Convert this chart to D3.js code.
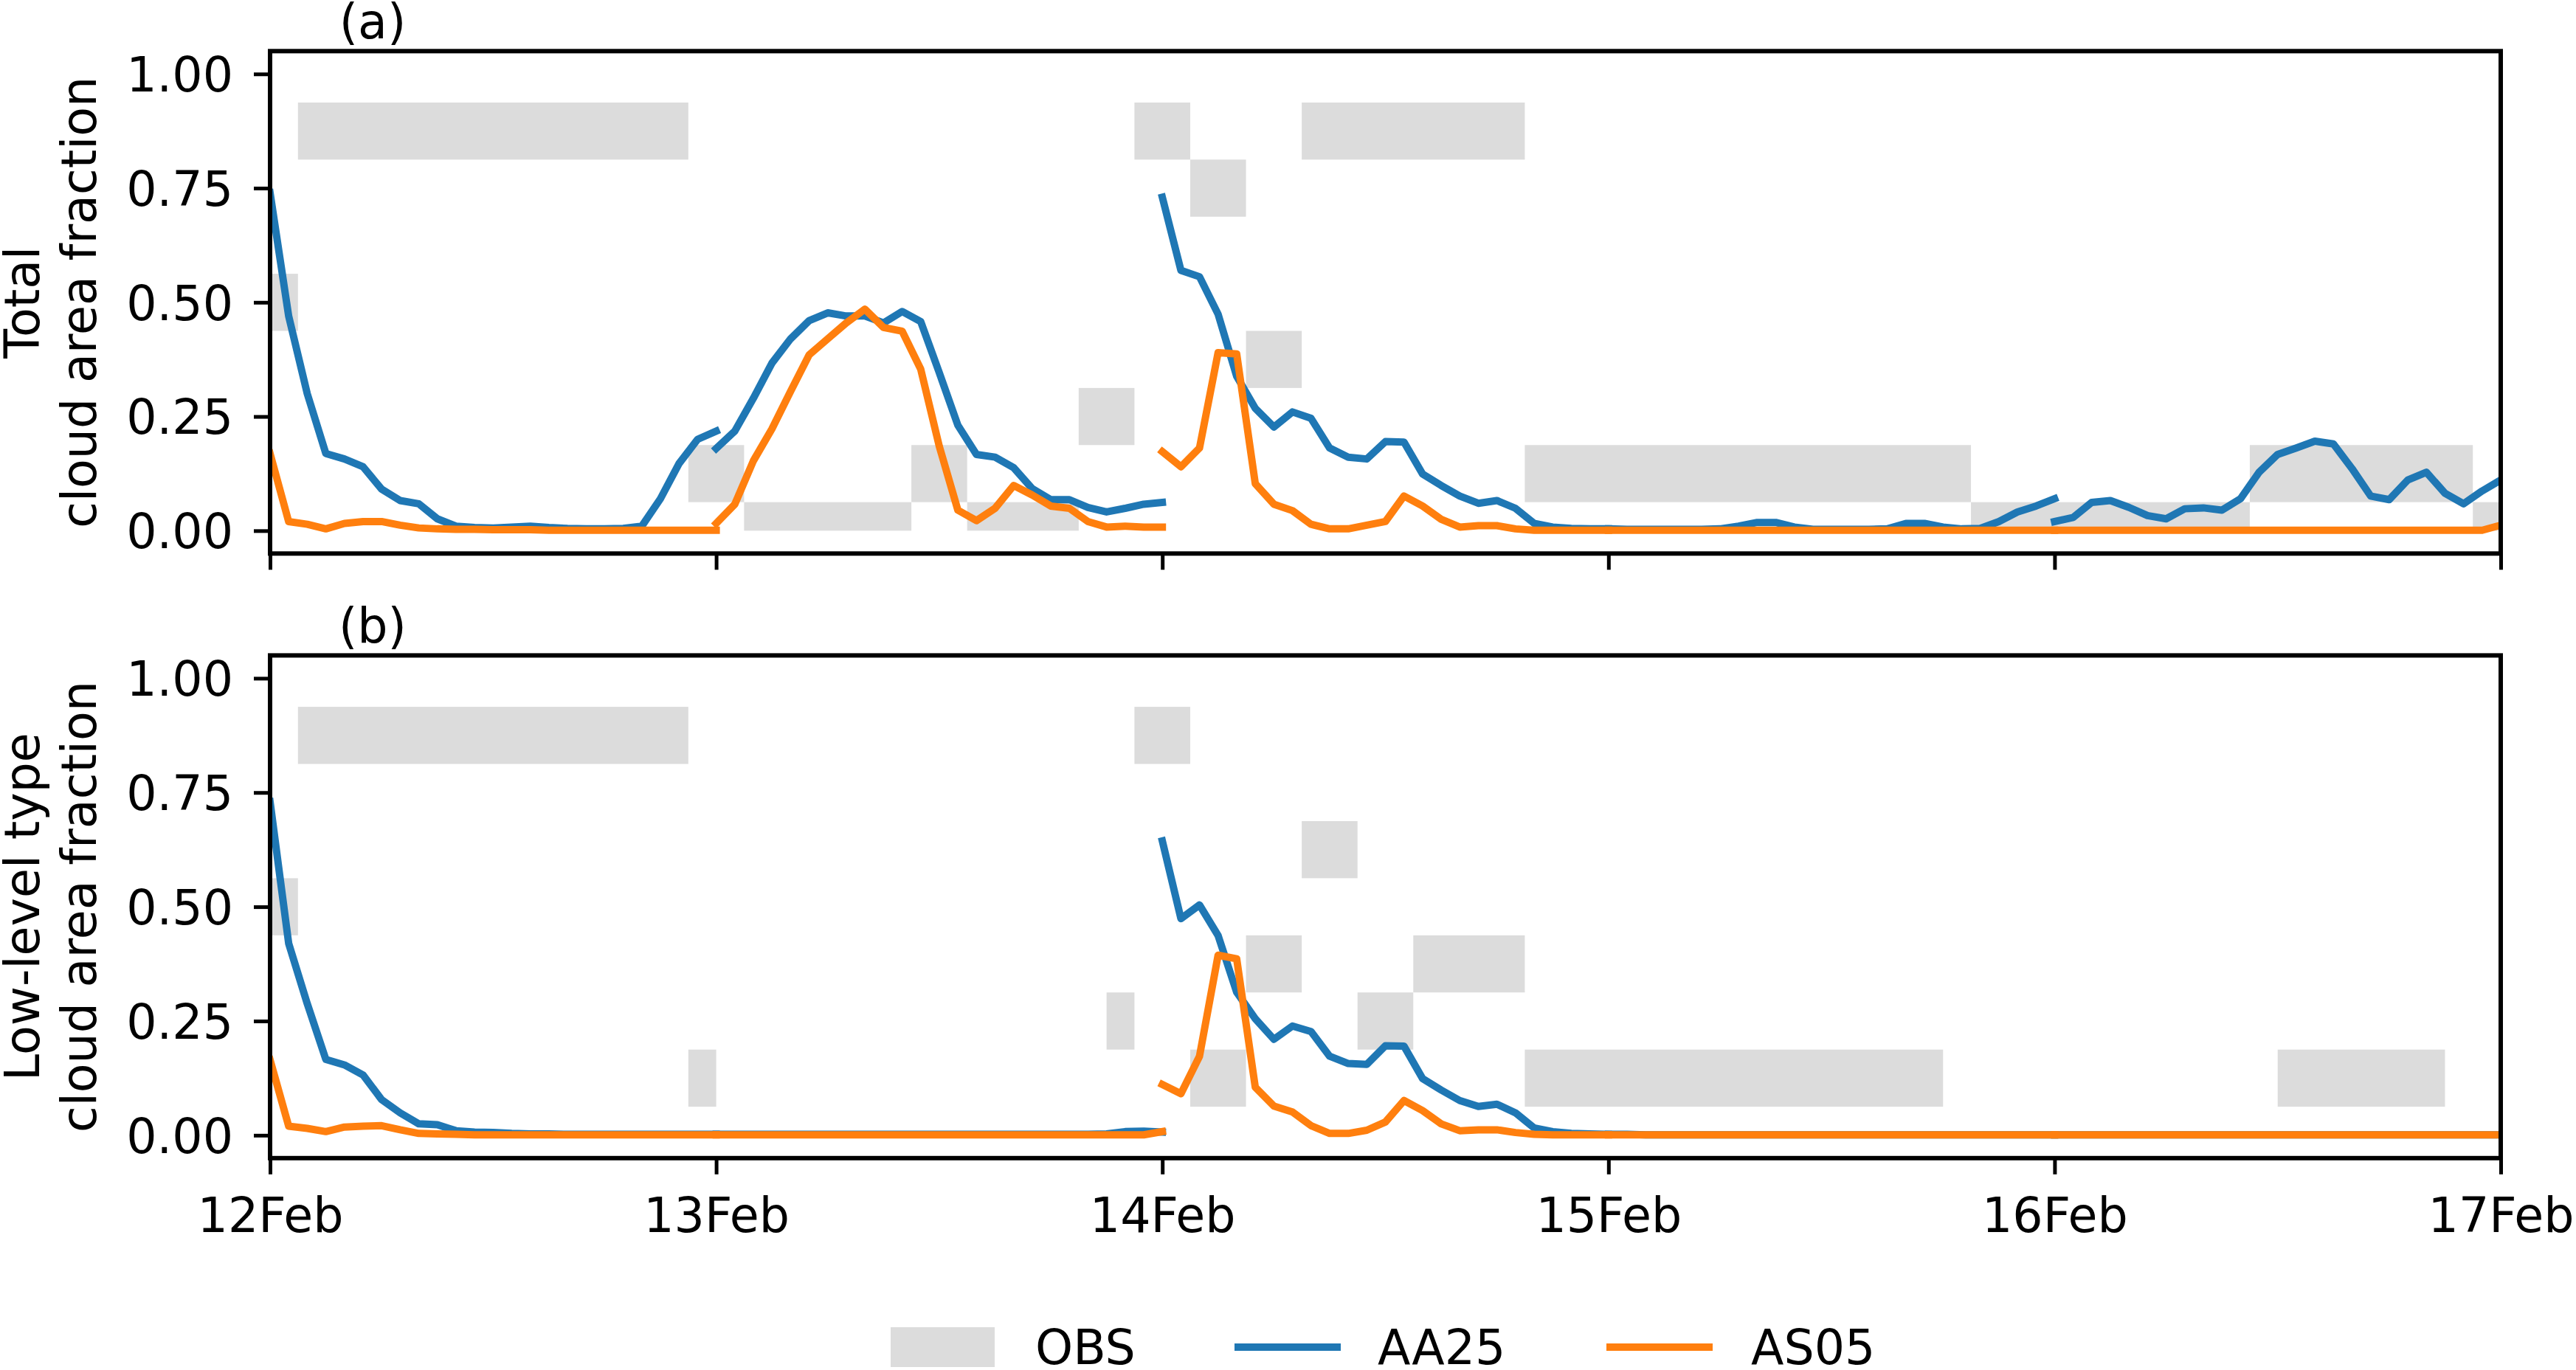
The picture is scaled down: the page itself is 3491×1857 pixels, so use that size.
<!DOCTYPE html>
<html><head><meta charset="utf-8">
<script src="https://cdn.jsdelivr.net/npm/d3@7"></script>
<style>
html,body{margin:0;padding:0;background:#fff;}
svg{display:block;}
text{font-family:"DejaVu Sans",sans-serif;fill:#000;}
</style>
</head><body>
<svg id="chart" width="3491" height="1857"></svg>
<script>
// ---------------- DATA ----------------
const dayLabels = ["12Feb","13Feb","14Feb","15Feb","16Feb","17Feb"];
const yTickValues = [0.00, 0.25, 0.50, 0.75, 1.00];
const panelTags = ["(a)", "(b)"];
const yLabelLines = [["Total", "cloud area fraction"], ["Low-level type", "cloud area fraction"]];
const legendNames = ["OBS", "AA25", "AS05"];

// OBS: [start hour, end hour, okta] (hours since 12Feb 00UTC)
const obsTotal = [
  [-1.5, 1.5, 4], [1.5, 22.5, 7], [22.5, 25.5, 1], [25.5, 34.5, 0], [34.5, 37.5, 1],
  [37.5, 43.5, 0], [43.5, 46.5, 2], [46.5, 49.5, 7], [49.5, 52.5, 6], [52.5, 55.5, 3],
  [55.5, 67.5, 7], [67.5, 91.5, 1], [91.5, 106.5, 0], [106.5, 118.5, 1], [118.5, 121.5, 0]
];
const obsLow = [
  [-1.5, 1.5, 4], [1.5, 22.5, 7], [22.5, 24, 1], [45, 46.5, 2], [46.5, 49.5, 7],
  [49.5, 52.5, 1], [52.5, 55.5, 3], [55.5, 58.5, 5], [58.5, 61.5, 2], [61.5, 67.5, 3],
  [67.5, 90, 1], [108, 117, 1]
];

// Model forecasts: one 25-value (hourly, 0..24 h) segment per forecast day
const aa25Total = [
  [0.74,0.47,0.30,0.169,0.157,0.14,0.091,0.066,0.059,0.026,0.01,0.007,0.006,0.008,0.01,0.007,0.005,0.004,0.004,0.005,0.01,0.07,0.147,0.20,0.218],
  [0.18,0.218,0.29,0.367,0.42,0.46,0.477,0.47,0.47,0.455,0.48,0.458,0.346,0.231,0.167,0.161,0.138,0.092,0.068,0.068,0.051,0.041,0.049,0.058,0.062],
  [0.73,0.57,0.556,0.474,0.338,0.268,0.227,0.26,0.246,0.181,0.161,0.157,0.195,0.194,0.124,0.099,0.076,0.06,0.066,0.049,0.016,0.008,0.005,0.004,0.004],
  [0.004,0.003,0.003,0.003,0.003,0.003,0.004,0.01,0.018,0.018,0.008,0.003,0.003,0.003,0.003,0.004,0.016,0.016,0.008,0.004,0.005,0.02,0.041,0.054,0.07],
  [0.02,0.029,0.062,0.066,0.051,0.033,0.026,0.048,0.05,0.045,0.07,0.128,0.167,0.181,0.196,0.19,0.136,0.076,0.068,0.111,0.128,0.082,0.059,0.087,0.111]
];
const as05Total = [
  [0.169,0.02,0.014,0.004,0.016,0.02,0.02,0.012,0.006,0.004,0.003,0.003,0.002,0.002,0.002,0.001,0.001,0.001,0.001,0.001,0.001,0.001,0.001,0.001,0.001],
  [0.016,0.058,0.153,0.223,0.305,0.385,0.42,0.455,0.485,0.445,0.437,0.354,0.185,0.045,0.022,0.049,0.099,0.078,0.054,0.049,0.02,0.008,0.01,0.008,0.008],
  [0.173,0.14,0.181,0.39,0.387,0.103,0.058,0.044,0.014,0.004,0.004,0.012,0.02,0.076,0.054,0.025,0.008,0.011,0.011,0.004,0.001,0.001,0.001,0.001,0.001],
  [0.001,0.001,0.001,0.001,0.001,0.001,0.001,0.001,0.001,0.001,0.001,0.001,0.001,0.001,0.001,0.001,0.001,0.001,0.001,0.001,0.001,0.001,0.001,0.001,0.001],
  [0.001,0.001,0.001,0.001,0.001,0.001,0.001,0.001,0.001,0.001,0.001,0.001,0.001,0.001,0.001,0.001,0.001,0.001,0.001,0.001,0.001,0.001,0.001,0.001,0.012]
];
const aa25Low = [
  [0.73,0.42,0.288,0.166,0.154,0.132,0.078,0.049,0.025,0.023,0.01,0.007,0.006,0.004,0.003,0.003,0.002,0.002,0.002,0.002,0.002,0.002,0.002,0.002,0.002],
  [0.002,0.002,0.002,0.002,0.002,0.002,0.002,0.002,0.002,0.002,0.002,0.002,0.002,0.002,0.002,0.002,0.002,0.002,0.002,0.002,0.002,0.003,0.008,0.009,0.007],
  [0.644,0.474,0.504,0.437,0.313,0.255,0.21,0.239,0.227,0.173,0.157,0.155,0.196,0.195,0.124,0.099,0.076,0.063,0.068,0.049,0.016,0.008,0.004,0.003,0.002],
  [0.002,0.002,0.001,0.001,0.001,0.001,0.001,0.001,0.001,0.001,0.001,0.001,0.001,0.001,0.001,0.001,0.001,0.001,0.001,0.001,0.001,0.001,0.001,0.001,0.001],
  [0.001,0.001,0.001,0.001,0.001,0.001,0.001,0.001,0.001,0.001,0.001,0.001,0.001,0.001,0.001,0.001,0.001,0.001,0.001,0.001,0.001,0.001,0.001,0.001,0.001]
];
const as05Low = [
  [0.165,0.02,0.015,0.008,0.018,0.02,0.021,0.012,0.004,0.003,0.002,0.001,0.001,0.001,0.001,0.001,0.001,0.001,0.001,0.001,0.001,0.001,0.001,0.001,0.001],
  [0.001,0.001,0.001,0.001,0.001,0.001,0.001,0.001,0.001,0.001,0.001,0.001,0.001,0.001,0.001,0.001,0.001,0.001,0.001,0.001,0.001,0.001,0.001,0.001,0.008],
  [0.111,0.091,0.173,0.394,0.386,0.105,0.064,0.051,0.021,0.004,0.004,0.011,0.029,0.076,0.054,0.025,0.01,0.012,0.012,0.006,0.002,0.001,0.001,0.001,0.001],
  [0.001,0.001,0.001,0.001,0.001,0.001,0.001,0.001,0.001,0.001,0.001,0.001,0.001,0.001,0.001,0.001,0.001,0.001,0.001,0.001,0.001,0.001,0.001,0.001,0.001],
  [0.001,0.001,0.001,0.001,0.001,0.001,0.001,0.001,0.001,0.001,0.001,0.001,0.001,0.001,0.001,0.001,0.001,0.001,0.001,0.001,0.001,0.001,0.001,0.001,0.001]
];

// ---------------- STYLE / LAYOUT ----------------
const C_OBS = "#dcdcdc", C_AA = "#1f77b4", C_AS = "#ff7f0e";
const FS = 65;
const LW = 10, FRAME_W = 6, TICK_W = 5;
const LEFT = 366, RIGHT = 3389;
const panels = [
  {top: 69.3, bottom: 750.3, obs: obsTotal, aa: aa25Total, as: as05Total, showX: false},
  {top: 888.4, bottom: 1569.8, obs: obsLow, aa: aa25Low, as: as05Low, showX: true}
];

const t0 = Date.UTC(2020, 1, 12);
const hourToDate = h => new Date(t0 + h * 3600e3);
const dayDates = dayLabels.map((d, i) => hourToDate(24 * i));

const svg = d3.select("#chart");
const x = d3.scaleUtc().domain([dayDates[0], dayDates[dayDates.length - 1]]).range([LEFT, RIGHT]);

panels.forEach((p, pi) => {
  const y = d3.scaleLinear().domain([-0.05, 1.05]).range([p.bottom, p.top]);
  const g = svg.append("g");
  const clipId = "clip" + pi;
  svg.append("defs").append("clipPath").attr("id", clipId)
    .append("rect").attr("x", LEFT).attr("y", p.top).attr("width", RIGHT - LEFT).attr("height", p.bottom - p.top);

  const plot = g.append("g").attr("clip-path", `url(#${clipId})`);

  // OBS blocks (okta bins)
  plot.selectAll("rect.obs").data(p.obs).enter().append("rect")
    .attr("class", "obs")
    .attr("x", d => x(hourToDate(d[0])))
    .attr("width", d => x(hourToDate(d[1])) - x(hourToDate(d[0])))
    .attr("y", d => y(Math.min(1, (d[2] + 0.5) / 8)))
    .attr("height", d => y(Math.max(0, (d[2] - 0.5) / 8)) - y(Math.min(1, (d[2] + 0.5) / 8)))
    .attr("fill", C_OBS);

  const line = d3.line()
    .x(d => x(hourToDate(d.h)))
    .y(d => y(d.v));

  const drawSeries = (segs, color) => {
    segs.forEach((seg, si) => {
      const pts = seg.map((v, k) => ({h: 24 * si + k, v}));
      plot.append("path").datum(pts)
        .attr("d", line)
        .attr("fill", "none")
        .attr("stroke", color)
        .attr("stroke-width", LW)
        .attr("stroke-linejoin", "round")
        .attr("stroke-linecap", "square");
    });
  };
  drawSeries(p.aa, C_AA);
  drawSeries(p.as, C_AS);

  // Y axis
  const yAxis = d3.axisLeft(y).tickValues(yTickValues).tickFormat(d3.format(".2f"))
    .tickSizeInner(22).tickSizeOuter(0).tickPadding(28);
  const ya = g.append("g").attr("transform", `translate(${LEFT},0)`).call(yAxis);
  ya.select(".domain").remove();
  ya.selectAll(".tick line").attr("stroke", "#000").attr("stroke-width", TICK_W);
  ya.selectAll(".tick text").attr("font-size", FS).attr("font-family", "DejaVu Sans").attr("dy", "0.36em");

  // X axis
  const xAxis = d3.axisBottom(x).tickValues(dayDates)
    .tickFormat((d, i) => p.showX ? dayLabels[i] : "")
    .tickSizeInner(22).tickSizeOuter(0).tickPadding(32);
  const xa = g.append("g").attr("transform", `translate(0,${p.bottom})`).call(xAxis);
  xa.select(".domain").remove();
  xa.selectAll(".tick line").attr("stroke", "#000").attr("stroke-width", TICK_W);
  xa.selectAll(".tick text").attr("font-size", FS).attr("font-family", "DejaVu Sans").attr("dy", "0.71em");

  // Frame
  g.append("rect").attr("x", LEFT).attr("y", p.top).attr("width", RIGHT - LEFT).attr("height", p.bottom - p.top)
    .attr("fill", "none").attr("stroke", "#000").attr("stroke-width", FRAME_W);

  // Panel tag
  g.append("text").attr("x", LEFT + 139).attr("y", p.top - 17)
    .attr("text-anchor", "middle").attr("font-size", FS).text(panelTags[pi]);

  // Y label (two lines)
  const cy = (p.top + p.bottom) / 2;
  yLabelLines[pi].forEach((txt, li) => {
    const bx = li === 0 ? 53 : 130;
    g.append("text").attr("transform", `translate(${bx},${cy}) rotate(-90)`)
      .attr("text-anchor", "middle").attr("font-size", FS).text(txt);
  });
});

// ---------------- LEGEND ----------------
const leg = svg.append("g");
const legY = 1826, legBase = 1849;
leg.append("rect").attr("x", 1207).attr("y", 1799).attr("width", 141).attr("height", 54).attr("fill", C_OBS);
leg.append("text").attr("x", 1403).attr("y", legBase).attr("font-size", FS).text(legendNames[0]);
leg.append("line").attr("x1", 1673).attr("x2", 1817).attr("y1", legY).attr("y2", legY)
  .attr("stroke", C_AA).attr("stroke-width", LW);
leg.append("text").attr("x", 1867).attr("y", legBase).attr("font-size", FS).text(legendNames[1]);
leg.append("line").attr("x1", 2177).attr("x2", 2321).attr("y1", legY).attr("y2", legY)
  .attr("stroke", C_AS).attr("stroke-width", LW);
leg.append("text").attr("x", 2373).attr("y", legBase).attr("font-size", FS).text(legendNames[2]);
</script>
</body></html>
